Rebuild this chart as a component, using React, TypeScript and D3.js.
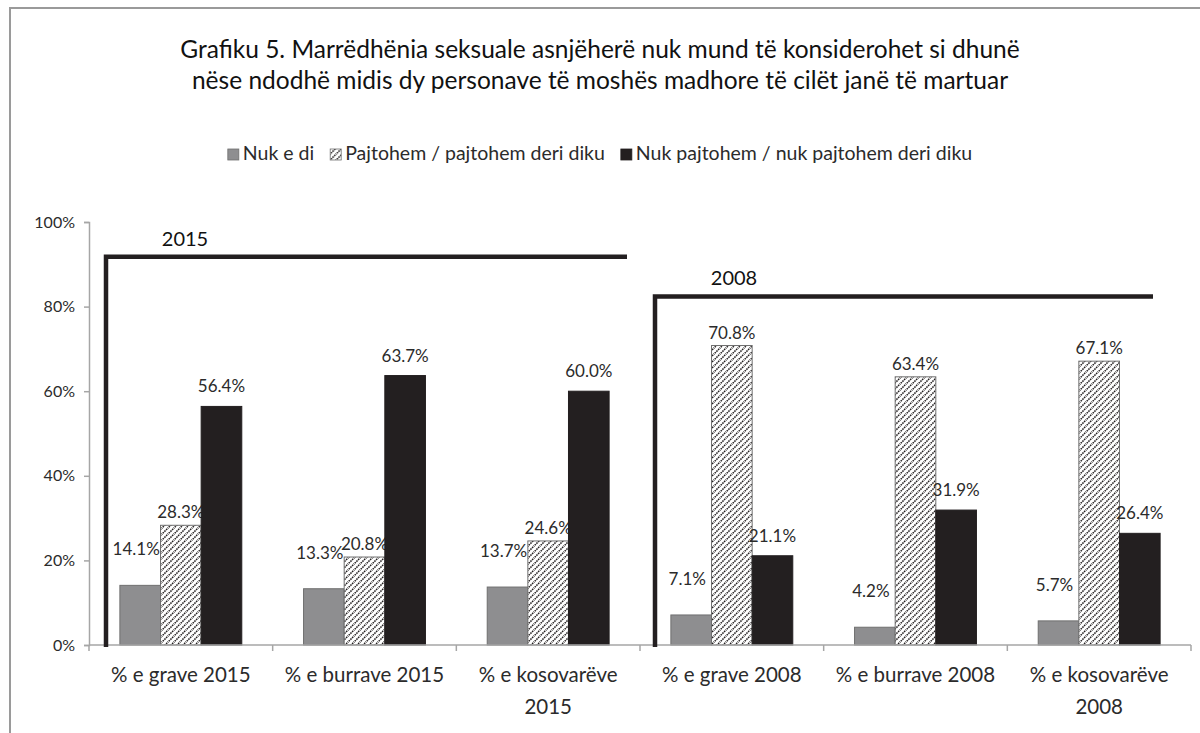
import { useEffect, useRef } from "react";
import * as d3 from "d3";

// ---------------- data ----------------
const categories = [
  ["% e grave 2015"],
  ["% e burrave 2015"],
  ["% e kosovarëve", "2015"],
  ["% e grave 2008"],
  ["% e burrave 2008"],
  ["% e kosovarëve", "2008"],
];
const seriesNames = [
  "Nuk e di",
  "Pajtohem / pajtohem deri diku",
  "Nuk pajtohem / nuk pajtohem deri diku",
];
const nukEDi = [14.1, 13.3, 13.7, 7.1, 4.2, 5.7];
const pajtohem = [28.3, 20.8, 24.6, 70.8, 63.4, 67.1];
const nukPajtohem = [56.4, 63.7, 60.0, 21.1, 31.9, 26.4];
const yTicks = [0, 20, 40, 60, 80, 100];
const titleLines = [
  "Grafiku 5. Marrëdhënia seksuale asnjëherë nuk mund të konsiderohet si dhunë",
  "nëse ndodhë midis dy personave të moshës madhore të cilët janë të martuar",
];
// year brackets: first / last category index, level in %
const brackets = [
  { label: "2015", from: 0, to: 2, level: 91.8 },
  { label: "2008", from: 3, to: 5, level: 82.4 },
];

const W = 1200;
const H = 733;
const FONT = "Lato, 'Open Sans', sans-serif";
const GRAY = "#8e8e90";
const DARK = "#231f20";
const TEXT = "#2b2b2b";

const App = () => {
  const svgRef = useRef(null);

  useEffect(() => {
    const svg = d3.select(svgRef.current);
    svg.selectAll("*").remove();

    ///////////////////// frame ////////////////////
    svg.append("rect")
      .attr("x", 10).attr("y", 8)
      .attr("width", W + 20).attr("height", H + 20)
      .attr("fill", "white")
      .attr("stroke", "#9a9a9a")
      .attr("stroke-width", 2);

    // hatch pattern
    const defs = svg.append("defs");
    const pat = defs.append("pattern")
      .attr("id", "hatch")
      .attr("patternUnits", "userSpaceOnUse")
      .attr("width", 6).attr("height", 6);
    pat.append("rect").attr("width", 6).attr("height", 6).attr("fill", "white");
    pat.append("path")
      .attr("d", "M-1,7 L7,-1 M-4,4 L4,-4 M2,10 L10,2")
      .attr("stroke", DARK)
      .attr("stroke-width", 1.5)
      .attr("stroke-dasharray", "1.6,0.8");

    ///////////////////// title ////////////////////
    svg.append("g")
      .selectAll("text")
      .data(titleLines)
      .enter()
      .append("text")
      .attr("x", 600)
      .attr("y", (d, i) => 58 + i * 31)
      .attr("text-anchor", "middle")
      .attr("font-family", FONT)
      .attr("font-size", 24.5)
      .attr("fill", "#111")
      .text((d) => d);

    ///////////////////// scales ////////////////////
    const x0 = 89;
    const x1 = 1191;
    const yBase = 645;
    const yTop = 222;

    const x = d3.scaleBand()
      .domain(categories.map((c, i) => String(i)))
      .range([x0, x1])
      .paddingInner(0)
      .paddingOuter(0);

    const inner = d3.scaleBand()
      .domain(["0", "1", "2"])
      .range([0, x.bandwidth()])
      .paddingInner(0)
      .paddingOuter(0.76);

    const y = d3.scaleLinear().domain([0, 100]).range([yBase, yTop]);

    ///////////////////// axes ////////////////////
    const yAxis = svg.append("g").attr("transform", `translate(${x0},0)`)
      .call(d3.axisLeft(y).tickValues(yTicks).tickSize(5).tickPadding(9).tickFormat((d) => d + "%"));
    yAxis.select(".domain").attr("stroke", "#a6a6a6").attr("stroke-width", 1.5);
    yAxis.selectAll(".tick line").attr("stroke", "#a6a6a6").attr("stroke-width", 1.5);
    yAxis.selectAll(".tick text")
      .attr("font-family", FONT).attr("font-size", 16).attr("fill", TEXT);

    ///////////////////// bars ////////////////////
    const series = [nukEDi, pajtohem, nukPajtohem];
    const fills = [GRAY, "url(#hatch)", DARK];
    const strokes = ["#6f6f6f", "#6f6f6f", DARK];
    const labelLift = [36, 13, 20];
    const labelShift = [-4, 0, 0];

    series.forEach((vals, s) => {
      const g = svg.append("g");
      g.selectAll("rect")
        .data(vals)
        .enter()
        .append("rect")
        .attr("x", (d, i) => x(String(i)) + inner(String(s)))
        .attr("y", (d) => y(d))
        .attr("width", inner.bandwidth())
        .attr("height", (d) => yBase - y(d))
        .attr("fill", fills[s])
        .attr("stroke", strokes[s])
        .attr("stroke-width", 1);

      g.selectAll("text")
        .data(vals)
        .enter()
        .append("text")
        .attr("x", (d, i) => x(String(i)) + inner(String(s)) + inner.bandwidth() / 2 + labelShift[s])
        .attr("y", (d) => y(d) - labelLift[s] + 6)
        .attr("text-anchor", "middle")
        .attr("font-family", FONT)
        .attr("font-size", 17)
        .attr("fill", TEXT)
        .text((d) => d.toFixed(1) + "%");
    });

    ///////////////////// x axis ////////////////////
    const xAxis = svg.append("g");
    xAxis.append("line")
      .attr("x1", x0).attr("x2", x1)
      .attr("y1", yBase).attr("y2", yBase)
      .attr("stroke", "#a6a6a6").attr("stroke-width", 1.5);
    xAxis.selectAll(".xt")
      .data(d3.range(categories.length + 1))
      .enter()
      .append("line")
      .attr("x1", (i) => (i < categories.length ? x(String(i)) : x1))
      .attr("x2", (i) => (i < categories.length ? x(String(i)) : x1))
      .attr("y1", yBase).attr("y2", yBase + 6)
      .attr("stroke", "#a6a6a6").attr("stroke-width", 1.5);
    categories.forEach((lines, i) => {
      const t = xAxis.append("text")
        .attr("text-anchor", "middle")
        .attr("font-family", FONT)
        .attr("font-size", 20.5)
        .attr("fill", TEXT);
      lines.forEach((ln, k) => {
        t.append("tspan")
          .attr("x", x(String(i)) + x.bandwidth() / 2)
          .attr("y", 682 + k * 32)
          .text(ln);
      });
    });

    ///////////////////// brackets ////////////////////
    brackets.forEach((b, k) => {
      const left = x(String(b.from)) + (k === 0 ? 17 : 15);
      const right = x(String(b.to)) + x.bandwidth() - (k === 0 ? 13 : 38);
      const top = y(b.level);
      svg.append("path")
        .attr("d", `M${left},${yBase + 2} L${left},${top} L${right},${top}`)
        .attr("fill", "none")
        .attr("stroke", DARK)
        .attr("stroke-width", 4.5);
      svg.append("text")
        .attr("x", left + 79)
        .attr("y", top - 11)
        .attr("text-anchor", "middle")
        .attr("font-family", FONT)
        .attr("font-size", 20)
        .attr("fill", "#111")
        .text(b.label);
    });

    ///////////////////// legend ////////////////////
    const legend = svg.append("g");
    const legendFills = [GRAY, "url(#hatch)", DARK];
    let cx = 0;
    seriesNames.forEach((name, i) => {
      const it = legend.append("g");
      it.append("rect")
        .attr("x", 0).attr("y", -11)
        .attr("width", 11).attr("height", 11)
        .attr("fill", legendFills[i])
        .attr("stroke", i === 2 ? DARK : "#6f6f6f")
        .attr("stroke-width", 0.8);
      const tx = it.append("text")
        .attr("x", 15).attr("y", 0)
        .attr("font-family", FONT)
        .attr("font-size", 19.5)
        .attr("fill", TEXT)
        .text(name);
      const w = 15 + tx.node().getComputedTextLength();
      it.attr("transform", `translate(${cx},0)`);
      cx += w + 16;
    });
    const total = cx - 16;
    legend.attr("transform", `translate(${600 - total / 2},160)`);
  }, []);

  return (
    <svg
      ref={svgRef}
      width={W}
      height={H}
      style={{ position: "absolute", left: 0, top: 0, background: "white" }}
    ></svg>
  );
};

export default App;
